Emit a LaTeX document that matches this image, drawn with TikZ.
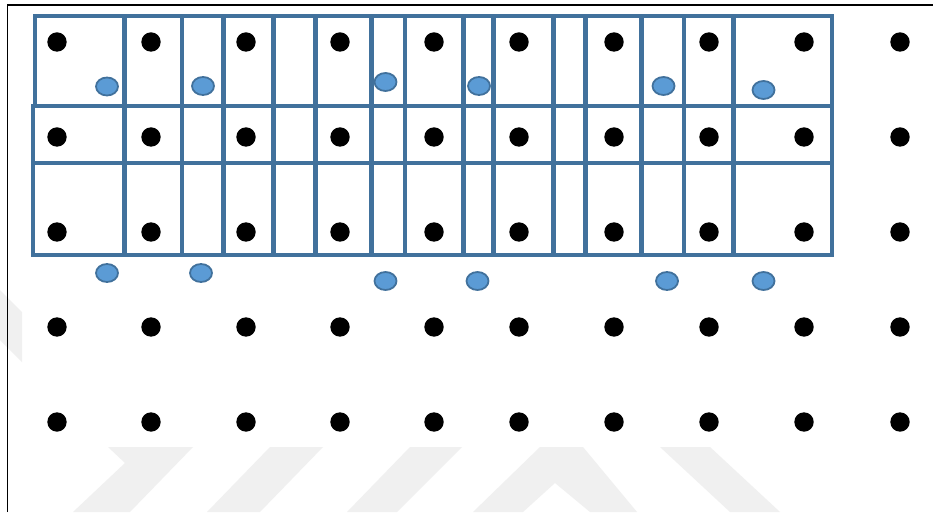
\documentclass[tikz,border=0pt]{standalone}
\usepackage{tikz}
\usepackage{xcolor}
\definecolor{azulgrade}{HTML}{41719C}
\definecolor{azulmancha}{HTML}{5B9BD5}
\definecolor{cinzamarca}{HTML}{F0F0F0}

\begin{document}
\begin{tikzpicture}[x=10pt,y=10pt,
  linha/.style={draw=azulgrade,line width=4.8pt},
  ponto/.style={fill=black},
  mancha/.style={fill=azulmancha,draw=azulgrade,line width=1.8pt}]
\fill[white] (0,0) rectangle (93.4,51.2);
\useasboundingbox (0,0) rectangle (93.4,51.2);
% Marca d'agua
\fill[cinzamarca] (0,22.2) -- (2.2,20.0) -- (2.2,15.0) -- (0,17.2) -- cycle;
\fill[cinzamarca] (10.8,6.5) -- (19.3,6.5) -- (13.0,0) -- (7.3,0) -- (12.5,4.9) -- cycle;
\fill[cinzamarca] (27.0,6.5) -- (32.3,6.5) -- (26.0,0) -- (20.7,0) -- cycle;
\fill[cinzamarca] (41.0,6.5) -- (46.2,6.5) -- (39.7,0) -- (34.7,0) -- cycle;
\fill[cinzamarca] (47.3,0) -- (54.0,6.5) -- (58.3,6.5) -- (63.7,0) -- (59.0,0) -- (55.5,2.9) -- (52.3,0) -- cycle;
\fill[cinzamarca] (66.0,6.5) -- (71.0,6.5) -- (78.0,0) -- (73.0,0) -- cycle;
% Moldura
\draw[line width=1.6pt] (0.75,0) -- (0.75,50.7) -- (93.3,50.7);
\draw[line width=2.8pt] (0.75,50.7) -- (2.2,50.7);
\draw[line width=2.8pt] (92.5,50.7) -- (93.3,50.7);
% Grade
\draw[linha] (3.5,40.6) rectangle (83.2,49.6);
\draw[linha] (3.3,25.7) rectangle (83.2,40.6);
\draw[linha] (3.3,34.9) -- (83.2,34.9);
\foreach \x in {12.43,18.2,22.35,27.33,31.55,37.15,40.5,46.35,49.35,55.35,58.57,64.17,68.4,73.35}
  \draw[linha] (\x,25.7) -- (\x,49.6);
% Pontos
\foreach \x in {5.7,15.1,24.6,34.0,43.4,51.9,61.4,70.9,80.4,90.0}
  \foreach \y in {47.0,37.5,28.0,18.5,9.0}
    \fill[ponto] (\x,\y) circle (0.97);
% Manchas
\foreach \x/\y in {10.7/42.55,20.3/42.6,38.55/43.0,47.9/42.6,66.35/42.6,76.35/42.2,
                   10.7/23.9,20.1/23.9,38.55/23.1,47.75/23.1,66.7/23.1,76.35/23.1}
  \draw[mancha] (\x,\y) ellipse (1.1 and 0.9);
\end{tikzpicture}
\end{document}
